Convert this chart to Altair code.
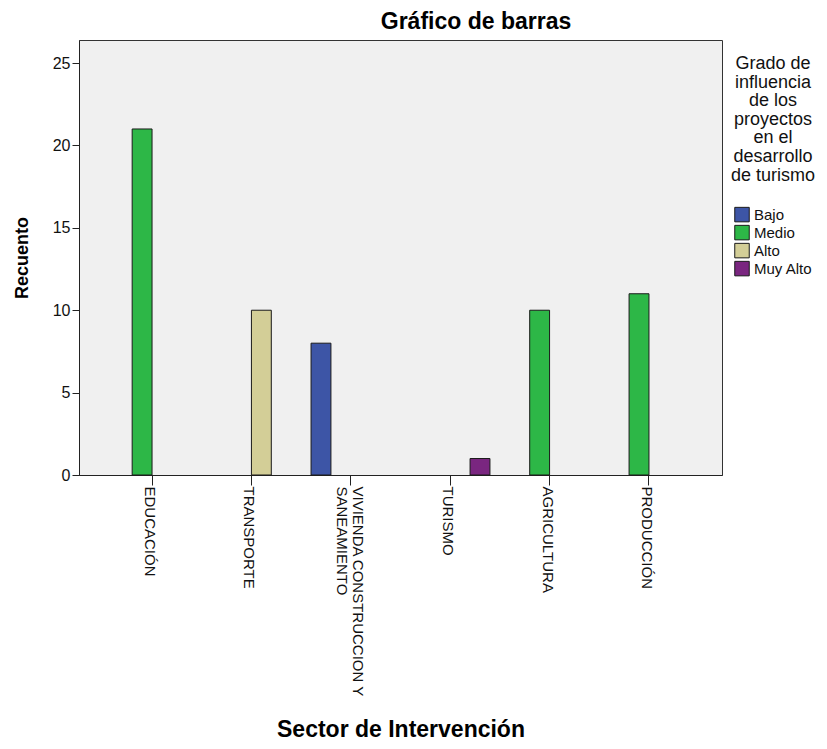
import altair as alt
import pandas as pd

titulo = "Gráfico de barras"
sectores = ["EDUCACIÓN", "TRANSPORTE", "VIVIENDA CONSTRUCCION Y SANEAMIENTO",
            "TURISMO", "AGRICULTURA", "PRODUCCIÓN"]
grados = ["Bajo", "Medio", "Alto", "Muy Alto"]
colores = ["#3D55A6", "#2DB747", "#D3CE97", "#7A2680"]

bar_sector = ["EDUCACIÓN", "TRANSPORTE", "VIVIENDA CONSTRUCCION Y SANEAMIENTO",
              "TURISMO", "AGRICULTURA", "PRODUCCIÓN"]
bar_grado = ["Medio", "Alto", "Bajo", "Muy Alto", "Medio", "Medio"]
bar_recuento = [21, 10, 8, 1, 10, 11]
y_ticks = [0, 5, 10, 15, 20, 25]

legend_title = ["Grado de", "influencia", "de los", "proyectos", "en el",
                "desarrollo", "de turismo"]

df = pd.DataFrame({"sector": bar_sector, "grado": bar_grado, "recuento": bar_recuento})
df_title = pd.DataFrame({"t": [titulo]})

W, H = 643, 435
FONT = "Liberation Sans"

label_expr = ("datum.label == 'VIVIENDA CONSTRUCCION Y SANEAMIENTO' ? "
              "['VIVIENDA CONSTRUCCION Y', 'SANEAMIENTO'] : datum.label")
label_offset = {"condition": {"test": "datum.label == 'VIVIENDA CONSTRUCCION Y SANEAMIENTO'",
                              "value": 7},
                "value": -2}

bars = alt.Chart(df).mark_bar(stroke="#1a1a1a", strokeWidth=1).encode(
    x=alt.X("sector:N", sort=sectores,
            scale=alt.Scale(domain=sectores, paddingInner=0.2, paddingOuter=0.335),
            axis=alt.Axis(title="Sector de Intervención", labelAngle=90,
                          labelAlign="left", labelBaseline="middle",
                          labelLimit=400, labelFontSize=15, labelPadding=1,
                          labelLineHeight=16, labelExpr=label_expr,
                          labelOffset=label_offset,
                          tickSize=10, titleFontSize=23, titleFontWeight="bold",
                          titleX=W / 2, titleY=261, titleBaseline="alphabetic",
                          titleAlign="center")),
    xOffset=alt.XOffset("grado:N",
                        scale=alt.Scale(domain=grados, paddingInner=0, paddingOuter=0)),
    y=alt.Y("recuento:Q", scale=alt.Scale(domain=[0, 26.4], nice=False, zero=True),
            axis=alt.Axis(title="Recuento", values=y_ticks, labelFontSize=16,
                          tickSize=7, labelPadding=2, grid=False,
                          titleFontSize=18, titleFontWeight="bold",
                          titleX=-52, titleY=H / 2, titleBaseline="alphabetic",
                          titleAlign="center", titleAngle=270)),
    color=alt.Color("grado:N", scale=alt.Scale(domain=grados, range=colores),
                    legend=alt.Legend(orient="none", legendX=652, legendY=15,
                                      title=legend_title, titleAlign="center",
                                      titleAnchor="middle", titleFontSize=18,
                                      titleFontWeight="normal", titleLineHeight=18.6,
                                      titlePadding=22, labelFontSize=15,
                                      symbolType="square", symbolSize=210,
                                      symbolStrokeColor="#1a1a1a", symbolStrokeWidth=1,
                                      symbolOpacity=1, rowPadding=-4, labelOffset=4,
                                      padding=0)),
)

title_text = alt.Chart(df_title).mark_text(
    font=FONT, fontSize=23, fontWeight="bold", color="#000000",
    align="center", baseline="alphabetic"
).encode(
    text="t:N",
    x=alt.value(397),
    y=alt.value(-11),
)

chart = alt.layer(bars, title_text).properties(
    width=W, height=H,
    autosize=alt.AutoSizeParams(type="none"),
    padding={"left": 71, "top": 32, "right": 97, "bottom": 266},
).configure_view(
    fill="#F0F0F0", stroke="#333333", strokeWidth=1
).configure_axis(
    domainColor="#222222", tickColor="#222222", labelColor="#111111",
    titleColor="#000000", labelFont=FONT, titleFont=FONT
).configure_legend(
    labelFont=FONT, titleFont=FONT, labelColor="#111111", titleColor="#111111"
)

chart.save("out.html", embed_options={"renderer": "svg", "actions": False})
